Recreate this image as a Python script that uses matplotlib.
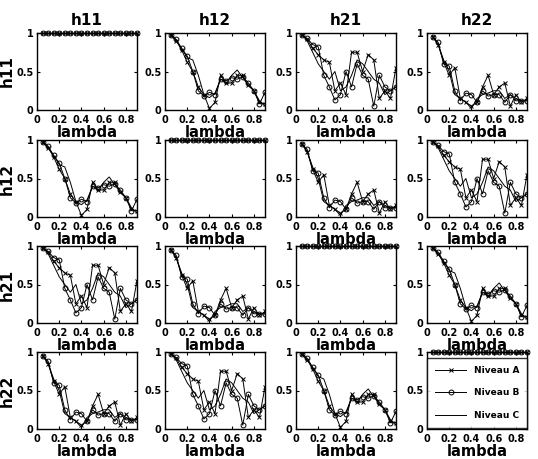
import numpy as np
import matplotlib.pyplot as plt

names = ['h11', 'h12', 'h21', 'h22']
lam = np.round(np.arange(0.05, 0.91, 0.05), 2)

# pattern 1 (h11-h12 type)
p1_a = [0.97, 0.90, 0.78, 0.62, 0.50, 0.30, 0.20, 0.02, 0.10, 0.45, 0.35, 0.35, 0.45, 0.45, 0.32, 0.25, 0.10, 0.08]
p1_b = [0.97, 0.92, 0.80, 0.70, 0.50, 0.25, 0.18, 0.23, 0.20, 0.40, 0.38, 0.42, 0.40, 0.43, 0.35, 0.25, 0.08, 0.23]
p1_c = [1.00, 0.90, 0.80, 0.68, 0.65, 0.45, 0.20, 0.16, 0.22, 0.40, 0.35, 0.45, 0.52, 0.42, 0.32, 0.25, 0.12, 0.05]

# pattern 2 (h11-h21 type)
p2_a = [0.97, 0.92, 0.80, 0.72, 0.65, 0.62, 0.25, 0.35, 0.20, 0.75, 0.75, 0.50, 0.72, 0.65, 0.15, 0.25, 0.15, 0.55]
p2_b = [0.97, 0.93, 0.85, 0.82, 0.45, 0.30, 0.13, 0.20, 0.50, 0.30, 0.60, 0.45, 0.40, 0.05, 0.45, 0.30, 0.25, 0.30]
p2_c = [1.00, 0.90, 0.75, 0.60, 0.50, 0.40, 0.50, 0.25, 0.30, 0.45, 0.65, 0.60, 0.50, 0.40, 0.35, 0.20, 0.25, 0.30]

# pattern 3 (h11-h22 type)
p3_a = [0.95, 0.85, 0.62, 0.45, 0.55, 0.15, 0.10, 0.05, 0.10, 0.30, 0.45, 0.20, 0.30, 0.35, 0.05, 0.20, 0.10, 0.15]
p3_b = [0.95, 0.88, 0.60, 0.57, 0.25, 0.12, 0.22, 0.20, 0.10, 0.25, 0.18, 0.20, 0.20, 0.10, 0.20, 0.12, 0.12, 0.12]
p3_c = [0.97, 0.85, 0.65, 0.50, 0.20, 0.15, 0.10, 0.02, 0.15, 0.20, 0.22, 0.25, 0.25, 0.15, 0.20, 0.15, 0.12, 0.12]

ones = [1.0] * len(lam)
diag = (ones, ones, ones)
P1 = (p1_a, p1_b, p1_c)
P2 = (p2_a, p2_b, p2_c)
P3 = (p3_a, p3_b, p3_c)

grid = [[diag, P1, P2, P3],
        [P1, diag, P3, P2],
        [P2, P3, diag, P1],
        [P3, P2, P1, diag]]

fig = plt.figure(figsize=(5.38, 4.59), dpi=100)
W, H = 538, 459
lefts = [37, 165, 296, 427]
tops = [33, 140, 246, 352]
aw, ah = 100, 77

for r in range(4):
    for c in range(4):
        ax = fig.add_axes([lefts[c] / W, 1 - (tops[r] + ah) / H, aw / W, ah / H])
        a, b, cc = grid[r][c]
        ax.plot(lam, a, '-x', color='k', lw=0.7, ms=3, mew=0.7, label='Niveau A', clip_on=(r != c))
        ax.plot(lam, b, '-o', color='k', lw=0.7, ms=3.5, mfc='none', mew=0.7, label='Niveau B', clip_on=(r != c))
        ax.plot(lam, cc, '-', color='k', lw=0.7, label='Niveau C', clip_on=(r != c))
        ax.set_xlim(0, 0.9)
        ax.set_ylim(0, 1)
        ax.set_xticks([0, 0.2, 0.4, 0.6, 0.8])
        ax.set_xticklabels(['0', '0.2', '0.4', '0.6', '0.8'], fontweight='bold')
        ax.set_yticks([0, 0.5, 1])
        ax.set_yticklabels(['0', '0.5', '1'], fontweight='bold')
        ax.tick_params(direction='in', length=2, labelsize=7, top=True, right=True)
        ax.tick_params(axis='x', pad=3.5)
        ax.tick_params(axis='y', pad=2.5)
        for s in ax.spines.values():
            s.set_linewidth(1.0)
        ax.set_xlabel('lambda', fontsize=10.5, fontweight='bold', labelpad=0)
        if r == 0:
            ax.set_title(names[c], fontsize=11, fontweight='bold', pad=6)
        if c == 0:
            ax.set_ylabel(names[r], fontsize=11, fontweight='bold', labelpad=1)
        if r == 3 and c == 3:
            ax.legend(loc='center', prop={'weight': 'bold', 'size': 6.5},
                      frameon=True, edgecolor='k', fancybox=False, labelspacing=1.5,
                      handlelength=3.5, borderpad=0.9, bbox_to_anchor=(0.5, 0.47))

fig.savefig('out.png', dpi=100)
